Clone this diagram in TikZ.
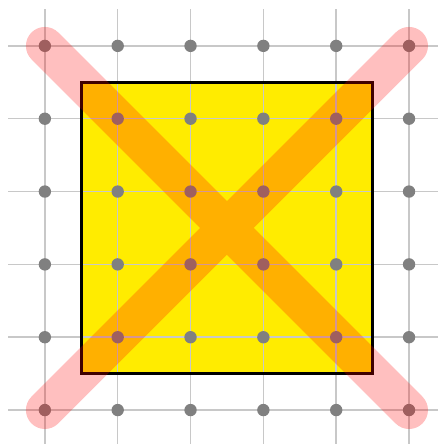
\documentclass[tikz,border=0pt]{standalone}
\usetikzlibrary{calc}
\definecolor{sqyellow}{RGB}{255,236,0}
\definecolor{gridgray}{RGB}{200,200,200}
\definecolor{dotgray}{RGB}{128,128,128}

\begin{document}
\begin{tikzpicture}[
    gridline/.style={gridgray, line width=0.6pt},
    dot/.style={circle, fill=dotgray, inner sep=0pt, minimum size=0.17cm},
    square/.style={draw=black, line width=1.2pt},
    cross/.style={draw=red, draw opacity=0.25, line width=0.52cm, line cap=round}
]

% page size
\clip (-0.616,-0.466) rectangle (5.397,5.630);

% yellow square
\fill[sqyellow] (0.5,0.5) rectangle (4.5,4.5);

% grid lines
\foreach \i in {0,...,5} {
    \draw[gridline] (\i,-0.5) -- (\i,5.5);
    \draw[gridline] (-0.5,\i) -- (5.5,\i);
}

% square border
\draw[square] (0.5,0.5) rectangle (4.5,4.5);

% dots
\foreach \i in {0,...,5}
    \foreach \j in {0,...,5}
        \node[dot] (d-\i-\j) at (\i,\j) {};

% the cross
\draw[cross] (d-0-5.center) -- (d-5-0.center)
             (d-0-0.center) -- (d-5-5.center);

\end{tikzpicture}
\end{document}
